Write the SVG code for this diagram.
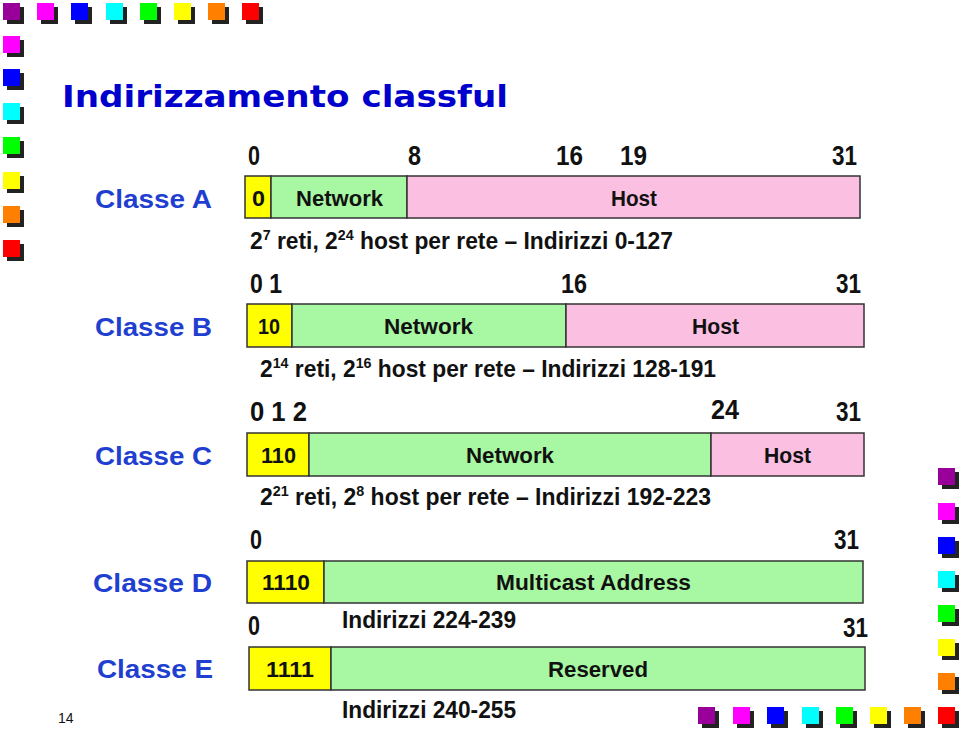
<svg xmlns="http://www.w3.org/2000/svg" width="960" height="730" viewBox="0 0 960 730">
<style>
.t{font-family:"Liberation Sans",Arial,sans-serif;font-weight:bold;fill:#111}
.bit{font-size:27px}
.in{font-size:22px}
.ln{font-size:24px}
.cl{font-family:"Liberation Sans",Arial,sans-serif;font-weight:bold;font-size:26px;fill:#1f3fd0;text-anchor:end}
.bar{stroke:#333;stroke-width:1.5}
.y{fill:#ffff00}.g{fill:#a8f7a2}.p{fill:#fbbfe2}
.sh{fill:#222}
</style>
<defs>
<g id="sq"><rect x="4" y="4" width="17" height="17" class="sh"/></g>
</defs>
<rect width="960" height="730" fill="#ffffff"/>
<g id="decor">
<g id="top-row">
<use href="#sq" x="3" y="3"/><rect x="3" y="3" width="17" height="17" fill="#990099"/>
<use href="#sq" x="37" y="3"/><rect x="37" y="3" width="17" height="17" fill="#ff00ff"/>
<use href="#sq" x="71" y="3"/><rect x="71" y="3" width="17" height="17" fill="#0000ff"/>
<use href="#sq" x="106" y="3"/><rect x="106" y="3" width="17" height="17" fill="#00ffff"/>
<use href="#sq" x="140" y="3"/><rect x="140" y="3" width="17" height="17" fill="#00ff00"/>
<use href="#sq" x="174" y="3"/><rect x="174" y="3" width="17" height="17" fill="#ffff00"/>
<use href="#sq" x="208" y="3"/><rect x="208" y="3" width="17" height="17" fill="#ff8000"/>
<use href="#sq" x="242" y="3"/><rect x="242" y="3" width="17" height="17" fill="#ff0000"/>
</g>
<g id="left-col">
<use href="#sq" x="3" y="36"/><rect x="3" y="36" width="17" height="17" fill="#ff00ff"/>
<use href="#sq" x="3" y="69"/><rect x="3" y="69" width="17" height="17" fill="#0000ff"/>
<use href="#sq" x="3" y="103"/><rect x="3" y="103" width="17" height="17" fill="#00ffff"/>
<use href="#sq" x="3" y="137"/><rect x="3" y="137" width="17" height="17" fill="#00ff00"/>
<use href="#sq" x="3" y="172"/><rect x="3" y="172" width="17" height="17" fill="#ffff00"/>
<use href="#sq" x="3" y="206"/><rect x="3" y="206" width="17" height="17" fill="#ff8000"/>
<use href="#sq" x="3" y="240"/><rect x="3" y="240" width="17" height="17" fill="#ff0000"/>
</g>
<g id="right-col">
<use href="#sq" x="938" y="468"/><rect x="938" y="468" width="17" height="17" fill="#990099"/>
<use href="#sq" x="938" y="503"/><rect x="938" y="503" width="17" height="17" fill="#ff00ff"/>
<use href="#sq" x="938" y="537"/><rect x="938" y="537" width="17" height="17" fill="#0000ff"/>
<use href="#sq" x="938" y="571"/><rect x="938" y="571" width="17" height="17" fill="#00ffff"/>
<use href="#sq" x="938" y="605"/><rect x="938" y="605" width="17" height="17" fill="#00ff00"/>
<use href="#sq" x="938" y="639"/><rect x="938" y="639" width="17" height="17" fill="#ffff00"/>
<use href="#sq" x="938" y="673"/><rect x="938" y="673" width="17" height="17" fill="#ff8000"/>
</g>
<g id="bottom-row">
<use href="#sq" x="698" y="707"/><rect x="698" y="707" width="17" height="17" fill="#990099"/>
<use href="#sq" x="733" y="707"/><rect x="733" y="707" width="17" height="17" fill="#ff00ff"/>
<use href="#sq" x="767" y="707"/><rect x="767" y="707" width="17" height="17" fill="#0000ff"/>
<use href="#sq" x="802" y="707"/><rect x="802" y="707" width="17" height="17" fill="#00ffff"/>
<use href="#sq" x="836" y="707"/><rect x="836" y="707" width="17" height="17" fill="#00ff00"/>
<use href="#sq" x="870" y="707"/><rect x="870" y="707" width="17" height="17" fill="#ffff00"/>
<use href="#sq" x="904" y="707"/><rect x="904" y="707" width="17" height="17" fill="#ff8000"/>
<use href="#sq" x="938" y="707"/><rect x="938" y="707" width="17" height="17" fill="#ff0000"/>
</g>
</g>
<text id="title" x="62" y="107" font-family="'DejaVu Sans',Verdana,sans-serif" font-weight="bold" font-size="31" fill="#0000cc" textLength="446" lengthAdjust="spacingAndGlyphs">Indirizzamento classful</text>
<text x="58" y="723" font-family="'Liberation Sans',Arial,sans-serif" font-size="14" fill="#111">14</text>
<g id="classA">
<text class="cl" x="212" y="208" textLength="117" lengthAdjust="spacingAndGlyphs">Classe A</text>
<g class="t bit">
<text x="248" y="165" textLength="12" lengthAdjust="spacingAndGlyphs">0</text>
<text x="408" y="165" textLength="13" lengthAdjust="spacingAndGlyphs">8</text>
<text x="556" y="165" textLength="27" lengthAdjust="spacingAndGlyphs">16</text>
<text x="620" y="165" textLength="27" lengthAdjust="spacingAndGlyphs">19</text>
<text x="832" y="165" textLength="25" lengthAdjust="spacingAndGlyphs">31</text>
</g>
<rect class="bar y" x="245" y="176" width="26" height="42"/>
<rect class="bar g" x="271" y="176" width="136" height="42"/>
<rect class="bar p" x="407" y="176" width="453" height="42"/>
<g class="t in">
<text x="252" y="206" textLength="13" lengthAdjust="spacingAndGlyphs">0</text>
<text x="296" y="206" textLength="87" lengthAdjust="spacingAndGlyphs">Network</text>
<text x="611" y="206" textLength="46" lengthAdjust="spacingAndGlyphs">Host</text>
</g>
<text class="t ln" x="250" y="249" textLength="423" lengthAdjust="spacingAndGlyphs">2<tspan font-size="15" dy="-9">7</tspan><tspan dy="9"> reti, 2</tspan><tspan font-size="15" dy="-9">24</tspan><tspan dy="9"> host per rete – Indirizzi 0-127</tspan></text>
</g>
<g id="classB">
<text class="cl" x="212" y="336" textLength="117" lengthAdjust="spacingAndGlyphs">Classe B</text>
<g class="t bit">
<text x="250" y="293" textLength="32" lengthAdjust="spacingAndGlyphs">0 1</text>
<text x="561" y="293" textLength="26" lengthAdjust="spacingAndGlyphs">16</text>
<text x="836" y="293" textLength="25" lengthAdjust="spacingAndGlyphs">31</text>
</g>
<rect class="bar y" x="247" y="304" width="45" height="43"/>
<rect class="bar g" x="292" y="304" width="274" height="43"/>
<rect class="bar p" x="566" y="304" width="298" height="43"/>
<g class="t in">
<text x="258" y="334" textLength="22" lengthAdjust="spacingAndGlyphs">10</text>
<text x="384" y="334" textLength="89" lengthAdjust="spacingAndGlyphs">Network</text>
<text x="692" y="334" textLength="47" lengthAdjust="spacingAndGlyphs">Host</text>
</g>
<text class="t ln" x="260" y="377" textLength="456" lengthAdjust="spacingAndGlyphs">2<tspan font-size="15" dy="-9">14</tspan><tspan dy="9"> reti, 2</tspan><tspan font-size="15" dy="-9">16</tspan><tspan dy="9"> host per rete – Indirizzi 128-191</tspan></text>
</g>
<g id="classC">
<text class="cl" x="212" y="465" textLength="117" lengthAdjust="spacingAndGlyphs">Classe C</text>
<g class="t bit">
<text x="250" y="421" textLength="57" lengthAdjust="spacingAndGlyphs">0 1 2</text>
<text x="711" y="419" textLength="28" lengthAdjust="spacingAndGlyphs">24</text>
<text x="836" y="421" textLength="25" lengthAdjust="spacingAndGlyphs">31</text>
</g>
<rect class="bar y" x="247" y="433" width="62" height="43"/>
<rect class="bar g" x="309" y="433" width="402" height="43"/>
<rect class="bar p" x="711" y="433" width="153" height="43"/>
<g class="t in">
<text x="261" y="463" textLength="35" lengthAdjust="spacingAndGlyphs">110</text>
<text x="466" y="463" textLength="88" lengthAdjust="spacingAndGlyphs">Network</text>
<text x="764" y="463" textLength="47" lengthAdjust="spacingAndGlyphs">Host</text>
</g>
<text class="t ln" x="260" y="505" textLength="451" lengthAdjust="spacingAndGlyphs">2<tspan font-size="15" dy="-9">21</tspan><tspan dy="9"> reti, 2</tspan><tspan font-size="15" dy="-9">8</tspan><tspan dy="9"> host per rete – Indirizzi 192-223</tspan></text>
</g>
<g id="classD">
<text class="cl" x="212" y="592" textLength="119" lengthAdjust="spacingAndGlyphs">Classe D</text>
<g class="t bit">
<text x="250" y="549" textLength="12" lengthAdjust="spacingAndGlyphs">0</text>
<text x="834" y="549" textLength="25" lengthAdjust="spacingAndGlyphs">31</text>
</g>
<rect class="bar y" x="247" y="561" width="77" height="42"/>
<rect class="bar g" x="324" y="561" width="539" height="42"/>
<g class="t in">
<text x="262" y="590" textLength="48" lengthAdjust="spacingAndGlyphs">1110</text>
<text x="496" y="590" textLength="195" lengthAdjust="spacingAndGlyphs">Multicast Address</text>
</g>
<text class="t ln" x="342" y="628" textLength="174" lengthAdjust="spacingAndGlyphs">Indirizzi 224-239</text>
</g>
<g id="classE">
<text class="cl" x="213" y="678" textLength="116" lengthAdjust="spacingAndGlyphs">Classe E</text>
<g class="t bit">
<text x="248" y="635" textLength="12" lengthAdjust="spacingAndGlyphs">0</text>
<text x="843" y="637" textLength="25" lengthAdjust="spacingAndGlyphs">31</text>
</g>
<rect class="bar y" x="249" y="647" width="82" height="43"/>
<rect class="bar g" x="331" y="647" width="534" height="43"/>
<g class="t in">
<text x="266" y="677" textLength="48" lengthAdjust="spacingAndGlyphs">1111</text>
<text x="548" y="677" textLength="100" lengthAdjust="spacingAndGlyphs">Reserved</text>
</g>
<text class="t ln" x="342" y="718" textLength="174" lengthAdjust="spacingAndGlyphs">Indirizzi 240-255</text>
</g>
<g id="connectors"/>
</svg>
